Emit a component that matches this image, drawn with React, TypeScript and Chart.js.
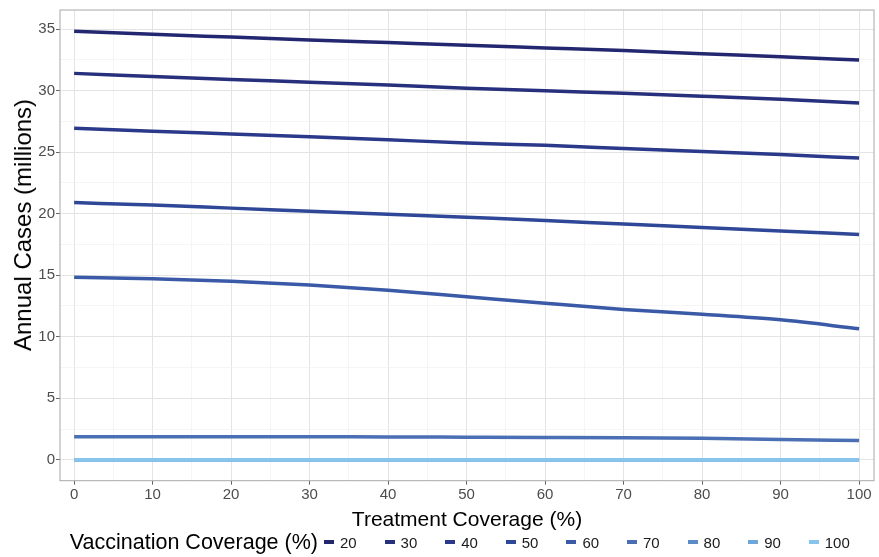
import React, { useEffect, useRef } from 'react';
import { Chart, registerables } from 'chart.js';

Chart.register(...registerables);

// ---- data ----
const treatmentCoverage = [0, 10, 20, 30, 40, 50, 60, 70, 80, 90, 100];
const vaccinationLevels = ['20', '30', '40', '50', '60', '70', '80', '90', '100'];

const cases20 = [34.82, 34.58, 34.35, 34.12, 33.9, 33.68, 33.47, 33.26, 33.0, 32.75, 32.48];
const cases30 = [31.4, 31.15, 30.9, 30.68, 30.45, 30.2, 29.98, 29.78, 29.55, 29.3, 29.0];
const cases40 = [26.95, 26.7, 26.48, 26.25, 26.0, 25.75, 25.55, 25.3, 25.05, 24.8, 24.52];
const cases50 = [20.9, 20.7, 20.45, 20.2, 19.95, 19.7, 19.45, 19.15, 18.88, 18.6, 18.3];
const cases60 = [14.83, 14.72, 14.5, 14.2, 13.78, 13.25, 12.72, 12.22, 11.83, 11.37, 10.65];
const cases70 = [1.88, 1.88, 1.88, 1.87, 1.86, 1.84, 1.82, 1.79, 1.74, 1.65, 1.57];
const cases80 = [0.0, 0.0, 0.0, 0.0, 0.0, 0.0, 0.0, 0.0, 0.0, 0.0, 0.0];
const cases90 = [0.0, 0.0, 0.0, 0.0, 0.0, 0.0, 0.0, 0.0, 0.0, 0.0, 0.0];
const cases100 = [0.0, 0.0, 0.0, 0.0, 0.0, 0.0, 0.0, 0.0, 0.0, 0.0, 0.0];

const allCases = [cases20, cases30, cases40, cases50, cases60, cases70, cases80, cases90, cases100];

const seriesColors = [
  '#232770',
  '#27307d',
  '#2b398a',
  '#2f4797',
  '#3a5aa7',
  '#4a6fb4',
  '#5b8cc7',
  '#6ea8da',
  '#88c5ec',
];

const xTickValues = [0, 5, 10, 15, 20, 25, 30, 35, 40, 45, 50, 55, 60, 65, 70, 75, 80, 85, 90, 95, 100];
const yTickValues = [0, 2.5, 5, 7.5, 10, 12.5, 15, 17.5, 20, 22.5, 25, 27.5, 30, 32.5, 35];

const FONT = "'Liberation Sans', Arial, Helvetica, sans-serif";

export default function App() {
  const ref = useRef<HTMLCanvasElement>(null);

  useEffect(() => {
    document.body.style.margin = '0';
    const canvas = ref.current;
    if (!canvas) return;

    const panelBorder = {
      id: 'panelBorder',
      afterDatasetsDraw(chart: any) {
        const { ctx, chartArea } = chart;
        ctx.save();
        ctx.strokeStyle = '#a8a8a8';
        ctx.lineWidth = 1;
        ctx.strokeRect(chartArea.left, chartArea.top, chartArea.right - chartArea.left, chartArea.bottom - chartArea.top);
        ctx.restore();
      },
    };

    const n = vaccinationLevels.length;
    const chart = new Chart(canvas, {
      type: 'line',
      data: {
        datasets: vaccinationLevels.map((lvl, i) => ({
          label: lvl,
          data: treatmentCoverage.map((x, j) => ({ x, y: allCases[i][j] })),
          borderColor: seriesColors[i],
          backgroundColor: seriesColors[i],
          borderWidth: 3.5,
          pointRadius: 0,
          cubicInterpolationMode: 'monotone' as const,
          fill: false,
          order: n - i,
        })),
      },
      options: {
        responsive: false,
        animation: false,
        layout: { padding: { left: 0, top: 5.3, right: 5, bottom: 24.3 } },
        plugins: {
          legend: { display: false },
          tooltip: { enabled: false },
        },
        scales: {
          x: {
            type: 'linear',
            min: -1.8,
            max: 101.9,
            afterBuildTicks: (axis: any) => {
              axis.ticks = xTickValues.map((v) => ({ value: v }));
            },
            afterFit: (axis: any) => {
              axis.height = 52;
            },
            ticks: {
              autoSkip: false,
              maxRotation: 0,
              padding: 1,
              color: '#4d4d4d',
              font: { family: FONT, size: 15 },
              callback: (v: any) => (Number(v) % 10 === 0 ? String(v) : ''),
            },
            grid: {
              color: (c: any) => (c.tick && c.tick.value % 10 === 0 ? '#e4e4e4' : '#f0f0f0'),
              lineWidth: (c: any) => (c.tick && c.tick.value % 10 === 0 ? 1 : 0.7),
              tickColor: (c: any) => (c.tick && c.tick.value % 10 === 0 ? '#666666' : 'rgba(0,0,0,0)'),
              tickLength: 4,
              drawTicks: true,
            },
            border: { display: false },
            title: {
              display: true,
              text: 'Treatment Coverage (%)',
              color: '#000000',
              font: { family: FONT, size: 21 },
              padding: { top: 0, bottom: 0 },
            },
          },
          y: {
            type: 'linear',
            min: -1.7,
            max: 36.55,
            afterBuildTicks: (axis: any) => {
              axis.ticks = yTickValues.map((v) => ({ value: v }));
            },
            afterFit: (axis: any) => {
              axis.width = 60;
            },
            ticks: {
              autoSkip: false,
              padding: 1,
              color: '#4d4d4d',
              font: { family: FONT, size: 15 },
              callback: (v: any) => (Number(v) % 5 === 0 ? String(v) : ''),
            },
            grid: {
              color: (c: any) => (c.tick && c.tick.value % 5 === 0 ? '#e4e4e4' : '#f0f0f0'),
              lineWidth: (c: any) => (c.tick && c.tick.value % 5 === 0 ? 1 : 0.7),
              tickColor: (c: any) => (c.tick && c.tick.value % 5 === 0 ? '#666666' : 'rgba(0,0,0,0)'),
              tickLength: 4,
              drawTicks: true,
            },
            border: { display: false },
            title: { display: false },
          },
        },
      },
      plugins: [panelBorder],
    });

    return () => chart.destroy();
  }, []);

  return (
    <div style={{ position: 'relative', width: 879, height: 557, background: '#ffffff', overflow: 'hidden' }}>
      <canvas ref={ref} width={879} height={557} style={{ display: 'block' }} />
      <div style={{ position: 'absolute', left: 23, top: 225, width: 0, height: 0 }}>
        <div
          style={{
            position: 'absolute',
            left: 0,
            top: 0,
            transform: 'translate(-50%, -50%) rotate(-90deg)',
            fontFamily: FONT,
            fontSize: 24,
            lineHeight: '28px',
            color: '#000000',
            whiteSpace: 'nowrap',
          }}
        >
          Annual Cases (millions)
        </div>
      </div>
      <div
        style={{
          position: 'absolute',
          right: 879 - 318,
          top: 528,
          height: 28,
          lineHeight: '28px',
          fontFamily: FONT,
          fontSize: 21.5,
          color: '#000000',
          whiteSpace: 'nowrap',
        }}
      >
        Vaccination Coverage (%)
      </div>
      <div
        style={{
          position: 'absolute',
          left: 324,
          top: 528,
          height: 28,
          display: 'flex',
          alignItems: 'center',
          fontFamily: FONT,
          fontSize: 15,
          color: '#1a1a1a',
          whiteSpace: 'nowrap',
        }}
      >
        {vaccinationLevels.map((lvl, i) => (
          <div key={lvl} style={{ display: 'flex', alignItems: 'center', width: 60.6 }}>
            <span style={{ display: 'inline-block', width: 10, height: 3.5, background: seriesColors[i], marginRight: 6 }} />
            <span>{lvl}</span>
          </div>
        ))}
      </div>
    </div>
  );
}
